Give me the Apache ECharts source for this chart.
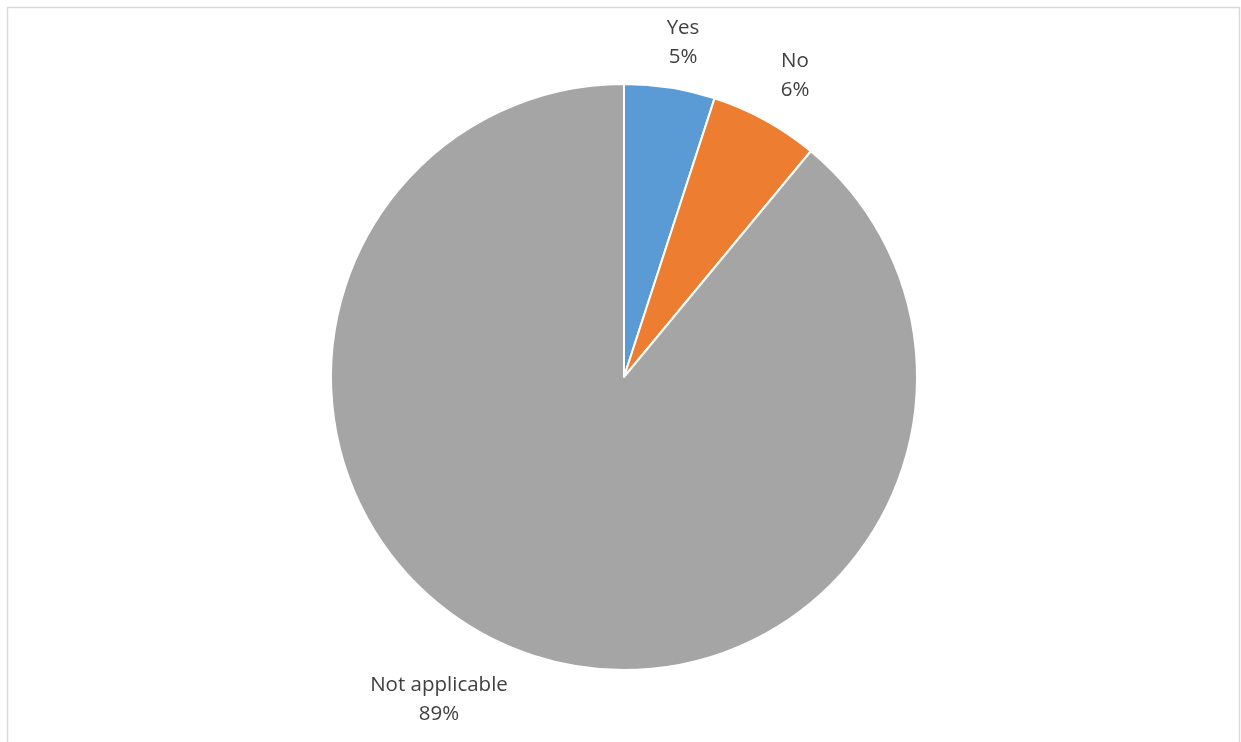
<!DOCTYPE html>
<html>
<head>
<meta charset="utf-8">
<script src="https://cdn.jsdelivr.net/npm/echarts@6/dist/echarts.min.js"></script>
<style>html,body{margin:0;padding:0;background:#fff}#c{width:1241px;height:742px}</style>
</head>
<body>
<div id="c"></div>
<script>
const categories = ['Yes', 'No', 'Not applicable'];
const values = [5, 6, 89];
const colors = ['#5b9bd5', '#ed7d31', '#a5a5a5'];

// label centres (text placement only)
const labelPos = [[683, 43], [795, 76], [439, 700]];

const chart = echarts.init(document.getElementById('c'), null, {renderer: 'canvas'});
chart.setOption({
  animation: false,
  backgroundColor: '#ffffff',
  graphic: [{
    type: 'rect',
    shape: {x: 7.5, y: 7.5, width: 1232, height: 760},
    style: {fill: 'none', stroke: '#d9d9d9', lineWidth: 1.5},
    silent: true
  }],
  series: [{
    type: 'pie',
    center: [624, 377],
    radius: [0, 293],
    startAngle: 90,
    clockwise: true,
    data: categories.map((c, i) => ({name: c, value: values[i], itemStyle: {color: colors[i]}})),
    itemStyle: {borderColor: '#ffffff', borderWidth: 2},
    label: {
      show: true,
      position: 'outside',
      formatter: p => p.name + '\n' + Math.round(p.percent) + '%',
      fontFamily: '"Open Sans", sans-serif',
      fontSize: 20.5,
      lineHeight: 29,
      color: '#404040',
      align: 'center'
    },
    labelLine: {show: false},
    labelLayout: function (params) {
      const p = labelPos[params.dataIndex];
      return {x: p[0], y: p[1], align: 'center', verticalAlign: 'middle'};
    }
  }]
});
</script>
</body>
</html>
